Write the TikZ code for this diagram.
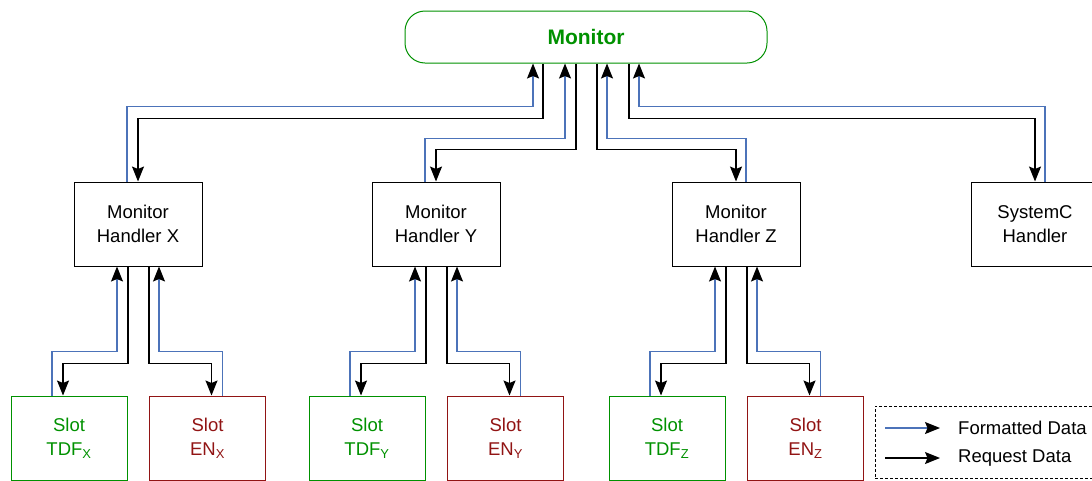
\documentclass[tikz,border=0pt]{standalone}
\usepackage{fontspec}
\setmainfont{Liberation Sans}
\usetikzlibrary{arrows.meta}

\definecolor{fmtblue}{RGB}{76,115,185}
\definecolor{tdfgreen}{RGB}{0,145,0}
\definecolor{enred}{RGB}{145,20,20}

\begin{document}
\begin{tikzpicture}[x=1pt, y=-1pt, font=\fontsize{18.5}{24}\selectfont,
  box/.style={draw, line width=1pt, align=center, inner sep=0pt},
  handler/.style={box, minimum width=128pt, minimum height=84pt},
  tdfslot/.style={box, draw=tdfgreen, text=tdfgreen, minimum width=116pt, minimum height=84pt},
  enslot/.style={box, draw=enred, text=enred, minimum width=116pt, minimum height=84pt},
  fmt/.style={draw=fmtblue, line width=1.2pt,
    -{Stealth[length=15pt,width=12pt,inset=2.5pt,color=black]}},
  req/.style={draw=black, line width=1.2pt,
    -{Stealth[length=15pt,width=12pt,inset=2.5pt]}}]
  \useasboundingbox (0,0) rectangle (1092,480);
  \clip (0,0) rectangle (1092,480);
  % monitor and handlers
  \node[box, draw=tdfgreen, text=tdfgreen, rounded corners=20pt,
        minimum width=362pt, minimum height=52pt,
        font=\fontsize{21}{24}\selectfont\bfseries] (mon) at (586,37) {Monitor};
  \node[handler] (hS) at (1035,224) {SystemC\\Handler};
  \foreach \h/\hx in {X/138,Y/436,Z/736} {
    \node[handler] (h\h) at (\hx,224) {Monitor\\Handler \h};
    \node[tdfslot] (t\h) at (\hx-69,438) {Slot\\TDF\textsubscript{\h}};
    \node[enslot] (e\h) at (\hx+69.5,438) {Slot\\EN\textsubscript{\h}};
    % slot links
    \draw[fmt] ([xshift=-17pt]t\h.north) -- ++(0,-44) -| ([xshift=-21pt]h\h.south);
    \draw[req] ([xshift=-10pt]h\h.south) -- ++(0,97) -| ([xshift=-6pt]t\h.north);
    \draw[req] ([xshift=11pt]h\h.south) -- ++(0,97) -| ([xshift=4pt]e\h.north);
    \draw[fmt] ([xshift=15pt]e\h.north) -- ++(0,-44) -| ([xshift=21pt]h\h.south);
  }
  % links to monitor
  \draw[fmt] ([xshift=-11pt]hX.north) -- ++(0,-75) -| ([xshift=-53pt]mon.south);
  \draw[req] ([xshift=-43pt]mon.south) -- ++(0,55) -| (hX.north);
  \draw[fmt] ([xshift=-11pt]hY.north) -- ++(0,-43) -| ([xshift=-21pt]mon.south);
  \draw[req] ([xshift=-10pt]mon.south) -- ++(0,86) -| (hY.north);
  \draw[fmt] ([xshift=10pt]hZ.north) -- ++(0,-43) -| ([xshift=21pt]mon.south);
  \draw[req] ([xshift=11pt]mon.south) -- ++(0,86) -| (hZ.north);
  \draw[fmt] ([xshift=10pt]hS.north) -- ++(0,-75) -| ([xshift=53pt]mon.south);
  \draw[req] ([xshift=43pt]mon.south) -- ++(0,55) -| (hS.north);
  % legend
  \node[draw, line width=0.8pt, dash pattern=on 3pt off 2pt,
        minimum width=240pt, minimum height=72pt] (legend) at (995,442) {};
  \coordinate (fstart) at (885,428);
  \coordinate (rstart) at (885,458);
  \node[anchor=west, inner sep=0pt] (ftext) at (958,428) {Formatted Data};
  \node[anchor=west, inner sep=0pt] (rtext) at (958,458) {Request Data};
  \draw[fmt] (fstart) -- ([xshift=-18pt]ftext.west);
  \draw[req] (rstart) -- ([xshift=-18pt]rtext.west);
\end{tikzpicture}
\end{document}
